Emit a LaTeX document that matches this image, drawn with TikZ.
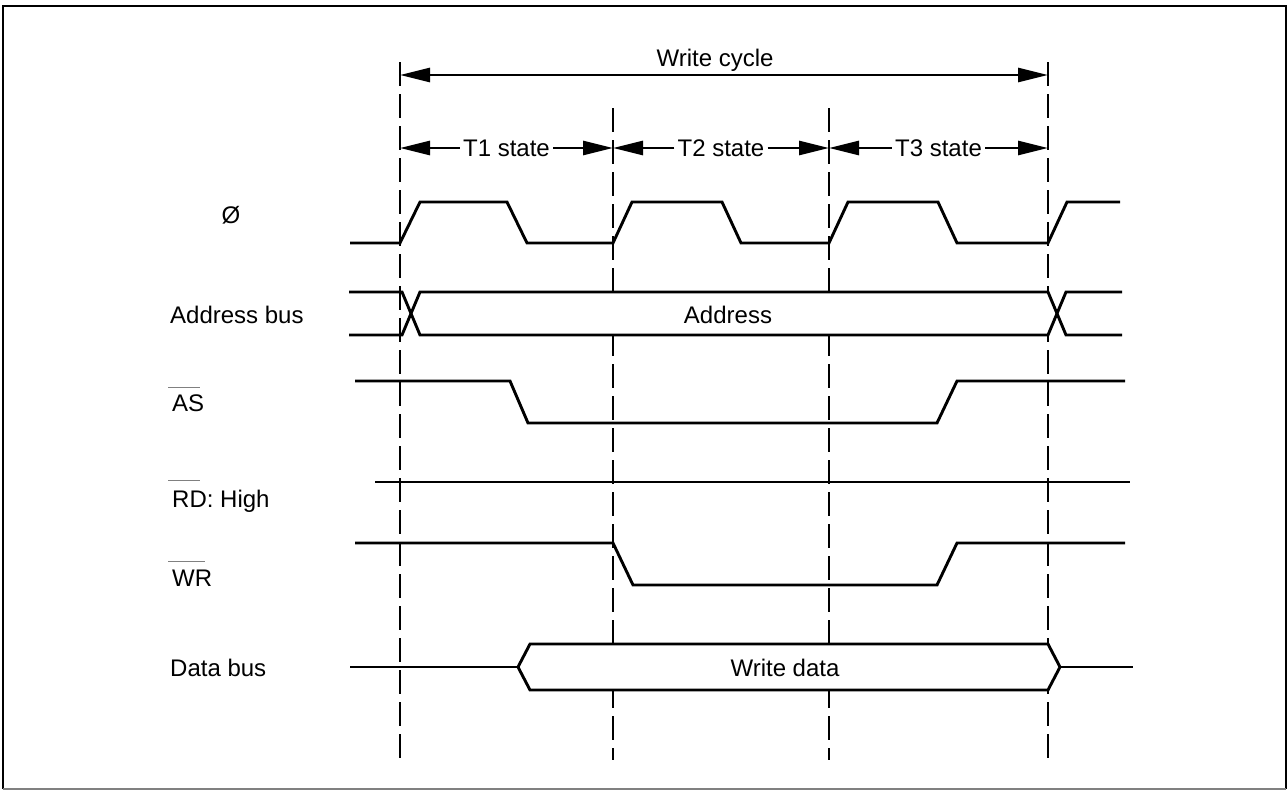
\documentclass[tikz,border=0pt]{standalone}
\usepackage{fontspec}
\setmainfont{Liberation Sans}
\usetikzlibrary{arrows.meta}
\begin{document}
\begin{tikzpicture}[x=1pt,y=-1pt,
  sig/.style={line width=2.9pt, line join=miter},
  vline/.style={line width=2.8pt, dash pattern=on 24pt off 8pt},
  lbl/.style={font=\fontsize{24}{28}\selectfont, inner sep=0pt},
  tip/.tip={Triangle[length=30pt,width=14pt]},
  dim/.style={line width=2.8pt, -tip},
  ovl/.style={gray, line width=1pt}]
\useasboundingbox (0,0) rectangle (1288,790);
% frame
\draw[line width=2.6pt] (3,789) -- (3,6) -- (1286,6) -- (1286,789);
\draw[gray, line width=1.2pt] (3,789) -- (1286,789);
% dashed state boundaries
\coordinate (d0t) at (400,62);  \coordinate (d0b) at (400,760);
\coordinate (d1t) at (613,108); \coordinate (d1b) at (613,760);
\coordinate (d2t) at (829,108); \coordinate (d2b) at (829,760);
\coordinate (d3t) at (1048,62); \coordinate (d3b) at (1048,760);
\draw[vline] (d0t) -- (d0b);
\draw[vline] (d1t) -- (d1b);
\draw[vline] (d2t) -- (d2b);
\draw[vline] (d3t) -- (d3b);
% write cycle
\coordinate (wc0) at (400,75); \coordinate (wc1) at (1048,75);
\node[lbl, anchor=base] (wc) at (715,66) {Write cycle};
\draw[line width=2.8pt, tip-tip] (wc0) -- (wc1);
% T states
\coordinate (s0) at (400,148); \coordinate (s1) at (613,148);
\coordinate (s2) at (829,148); \coordinate (s3) at (1048,148);
\node[lbl, inner xsep=3pt] (t1) at (506.5,148) {T1 state};
\node[lbl, inner xsep=3pt] (t2) at (721,148) {T2 state};
\node[lbl, inner xsep=3pt] (t3) at (938.5,148) {T3 state};
\draw[dim] (t1.west) -- (s0); \draw[dim] (t1.east) -- (s1);
\draw[dim] (t2.west) -- (s1); \draw[dim] (t2.east) -- (s2);
\draw[dim] (t3.west) -- (s2); \draw[dim] (t3.east) -- (s3);
% labels
\node[lbl, anchor=base] (phi) at (231,223) {Ø};
\node[lbl, anchor=base west] (lab) at (170,323) {Address bus};
\node[lbl, anchor=base west] (las) at (172,411) {AS};
\node[lbl, anchor=base west] (lrd) at (172,507) {RD:\ High};
\node[lbl, anchor=base west] (lwr) at (172,586) {WR};
\node[lbl, anchor=base west] (ldb) at (170,676) {Data bus};
\draw[ovl] (168,387) -- (200,387);
\draw[ovl] (168,480) -- (200,480);
\draw[ovl] (168,561) -- (205,561);
% clock
\draw[sig] (350,243) -- (400,243) -- (420,202) -- (507,202) -- (527,243) -- (613,243)
  -- (632,202) -- (722,202) -- (741,243) -- (829,243) -- (848,202) -- (938,202)
  -- (957,243) -- (1048,243) -- (1067,202) -- (1120,202);
% address bus
\fill[white] (411,313.5) -- (420,292) -- (1048,292) -- (1057,313.5) -- (1048,335) -- (420,335) -- cycle;
\draw[sig] (349,292) -- (402,292) -- (420,335) -- (1048,335) -- (1066,292) -- (1122,292);
\draw[sig] (349,335) -- (402,335) -- (420,292) -- (1048,292) -- (1066,335) -- (1122,335);
\node[lbl] (addr) at (728,315) {Address};
% AS
\draw[sig] (355,381) -- (510,381) -- (528,423) -- (937,423) -- (957,381) -- (1125,381);
% RD
\draw[sig] (375,482) -- (1130,482);
% WR
\draw[sig] (355,543) -- (613,543) -- (633,585) -- (937,585) -- (957,543) -- (1125,543);
% data bus
\filldraw[sig, fill=white] (518,667) -- (530,644) -- (1048,644) -- (1060,667) -- (1048,690) -- (530,690) -- cycle;
\draw[sig] (350,667) -- (518,667);
\draw[sig] (1060,667) -- (1133,667);
\node[lbl] (wd) at (785,668) {Write data};
\end{tikzpicture}
\end{document}
